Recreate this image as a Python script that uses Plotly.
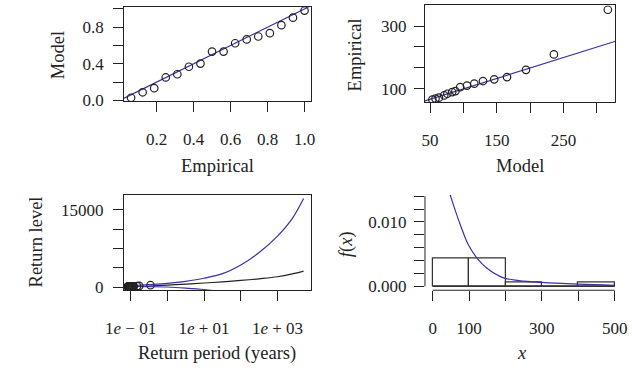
import plotly.graph_objects as go

W, H = 632, 379

# ---- probability plot ----
pp_empirical = [0.0625, 0.125, 0.1875, 0.25, 0.3125, 0.375, 0.4375, 0.5,
                0.5625, 0.625, 0.6875, 0.75, 0.8125, 0.875, 0.9375, 1.0]
pp_model = [0.029, 0.089, 0.134, 0.251, 0.286, 0.368, 0.403, 0.534,
            0.534, 0.625, 0.667, 0.699, 0.735, 0.823, 0.905, 0.982]
pp_diag = [0.0, 1.05]

# ---- quantile plot ----
qq_model = [53.5, 58.2, 63.3, 71.2, 75.9, 83.1, 88.0, 95.2,
            105.3, 116.3, 129.3, 146.1, 165.3, 193.7, 235.5, 316.3]
qq_empirical = [64.7, 67.8, 70.9, 78.1, 83.4, 88.8, 91.9, 104.4,
                109.4, 115.6, 124.1, 129.4, 136.6, 160.0, 209.4, 352.2]
qq_fit_x = [42.3, 327.7]
qq_fit_y = [60.6, 251.3]

# ---- return level plot ----
rl_period = [0.083, 0.085, 0.087, 0.089, 0.091, 0.094, 0.097, 0.1,
             0.104, 0.108, 0.113, 0.118, 0.122, 0.15, 0.172, 0.348]
rl_obs = qq_empirical
rl_curve_period = [0.079, 0.316, 1.0, 3.16, 10.0, 31.6, 100.0, 316.0,
                   1000.0, 2512.0, 5129.0]
rl_estimate = [60, 200, 380, 560, 780, 1000, 1280, 1600, 2000, 2550, 3100]
rl_upper = [200, 450, 700, 1100, 1700, 2600, 4300, 6700, 9900, 13300, 17200]
rl_lower_period = [0.079, 0.316, 1.0, 3.16, 10.0, 20.0, 31.6]
rl_lower = [100, 60, 0, -200, -480, -750, -1100]

# ---- density plot ----
bin_edges = [0, 100, 200, 300, 400, 500]
bin_density = [0.004375, 0.004375, 0.000625, 0.0, 0.000625]
dens_x = [48.2, 61.3, 78.9, 96.6, 122.9, 149.2, 192.9, 236.8, 300, 400, 500]
dens_y = [0.0142, 0.0119, 0.0091, 0.0066, 0.0043, 0.0028, 0.00135,
          0.0009, 0.0006, 0.00033, 0.00015]
dens_ticks = [0, 0.002, 0.004, 0.006, 0.008, 0.010, 0.012, 0.014]

FONT = "Liberation Serif"
INK = "#222222"
BLUE = "#3a32a0"


def dx(left, right):
    return [left / W, right / W]


def dy(top, bottom):
    return [1 - bottom / H, 1 - top / H]


axis_common = dict(
    showline=True, linecolor=INK, linewidth=1, ticks="outside", ticklen=10,
    tickwidth=1, tickcolor=INK, showgrid=False, zeroline=False,
    tickfont=dict(family=FONT, size=17, color=INK),
)

fig = go.Figure()

# panel 1
fig.add_trace(go.Scatter(x=pp_diag, y=pp_diag, mode="lines",
                         line=dict(color=BLUE, width=1.2), xaxis="x", yaxis="y"))
fig.add_trace(go.Scatter(x=pp_empirical, y=pp_model, mode="markers",
                         marker=dict(symbol="circle-open", size=7.5,
                                     color=INK, line=dict(width=1.2)),
                         xaxis="x", yaxis="y"))

# panel 2
fig.add_trace(go.Scatter(x=qq_fit_x, y=qq_fit_y, mode="lines",
                         line=dict(color=BLUE, width=1.2), xaxis="x2", yaxis="y2"))
fig.add_trace(go.Scatter(x=qq_model, y=qq_empirical, mode="markers",
                         marker=dict(symbol="circle-open", size=7.5,
                                     color=INK, line=dict(width=1.2)),
                         xaxis="x2", yaxis="y2"))

# panel 3
fig.add_trace(go.Scatter(x=rl_curve_period, y=rl_estimate, mode="lines",
                         line=dict(color=INK, width=1.2, shape="spline"),
                         xaxis="x3", yaxis="y3"))
fig.add_trace(go.Scatter(x=rl_curve_period, y=rl_upper, mode="lines",
                         line=dict(color=BLUE, width=1.2, shape="spline"),
                         xaxis="x3", yaxis="y3"))
fig.add_trace(go.Scatter(x=rl_lower_period, y=rl_lower, mode="lines",
                         line=dict(color=BLUE, width=1.2, shape="spline"),
                         xaxis="x3", yaxis="y3"))
fig.add_trace(go.Scatter(x=rl_period, y=rl_obs, mode="markers",
                         marker=dict(symbol="circle-open", size=7.5,
                                     color=INK, line=dict(width=1.2)),
                         xaxis="x3", yaxis="y3"))

# panel 4
centers = [(a + b) / 2 for a, b in zip(bin_edges[:-1], bin_edges[1:])]
widths = [b - a for a, b in zip(bin_edges[:-1], bin_edges[1:])]
fig.add_trace(go.Bar(x=centers, y=bin_density, width=widths,
                     marker=dict(color="white", line=dict(color="#333333", width=1.2)),
                     xaxis="x4", yaxis="y4"))
fig.add_trace(go.Scatter(x=dens_x, y=dens_y, mode="lines",
                         line=dict(color=BLUE, width=1.2, shape="spline"),
                         xaxis="x4", yaxis="y4"))

# bar baseline and R-style axis lines spanning only the tick range
fig.add_shape(type="line", xref="x4", yref="y4", x0=bin_edges[0], x1=bin_edges[-1],
              y0=0, y1=0, line=dict(color="#333333", width=1.2))
fig.add_shape(type="line", xref="x4", yref="y4 domain", x0=bin_edges[0],
              x1=bin_edges[-1], y0=0, y1=0, line=dict(color=INK, width=1))
fig.add_shape(type="line", xref="x4 domain", yref="y4", x0=0, x1=0,
              y0=dens_ticks[0], y1=dens_ticks[-1], line=dict(color=INK, width=1))

fig.update_layout(
    width=W, height=H, margin=dict(l=0, r=0, t=0, b=0),
    paper_bgcolor="white", plot_bgcolor="white", showlegend=False,
    bargap=0,
    xaxis=dict(axis_common, domain=dx(109.3, 304), range=[0.025, 1.0375],
               tickvals=[0.2, 0.4, 0.6, 0.8, 1.0],
               ticktext=["0.2", "0.4", "0.6", "0.8", "1.0"],
               mirror=True, anchor="y", ticklabelstandoff=12),
    yaxis=dict(axis_common, domain=dy(7.3, 103.7), range=[-0.009, 1.02],
               tickvals=[0.0, 0.2, 0.4, 0.6, 0.8, 1.0],
               ticktext=["0.0", "", "0.4", "", "0.8", ""],
               mirror=True, anchor="x", ticklabelstandoff=6),
    xaxis2=dict(axis_common, domain=dx(422, 620), range=[42.4, 327.7],
                tickvals=[50, 100, 150, 200, 250, 300],
                ticktext=["50", "", "150", "", "250", ""],
                mirror=True, anchor="y2", ticklabelstandoff=12),
    yaxis2=dict(axis_common, domain=dy(5.3, 104.7), range=[56.3, 366.9],
                tickvals=[100, 166.7, 233.3, 300],
                ticktext=["100", "", "", "300"],
                mirror=True, anchor="x2", ticklabelstandoff=4),
    xaxis3=dict(axis_common, type="log", domain=dx(109, 304), range=[-1.183, 3.924],
                tickvals=[0.1, 1, 10, 100, 1000],
                ticktext=["1<i>e</i> − 01", "", "1<i>e</i> + 01", "",
                          "1<i>e</i> + 03"],
                mirror=True, anchor="y3", ticklabelstandoff=12),
    yaxis3=dict(axis_common, domain=dy(199.3, 297.3), range=[-627, 17981],
                tickvals=[0, 3750, 7500, 11250, 15000],
                ticktext=["0", "", "", "", "15000"],
                mirror=True, anchor="x3", ticklabelstandoff=6),
    xaxis4=dict(axis_common, showline=False, domain=dx(422, 627), range=[-21.1, 520.6],
                tickvals=bin_edges,
                ticktext=["0", "100", "", "300", "", "500"],
                anchor="y4", ticklabelstandoff=12),
    yaxis4=dict(axis_common, showline=False, domain=dy(199.3, 297.3),
                range=[-0.000606, 0.01424],
                tickvals=dens_ticks,
                ticktext=["0.000", "", "", "", "", "0.010", "", ""],
                anchor="x4", ticklabelstandoff=4),
)

title_font = dict(family=FONT, size=18.5, color=INK)
titles = [
    ("Empirical", 206, 170, 0),
    ("Model", 40, 56, -90),
    ("Model", 521, 170, 0),
    ("Empirical", 349, 56, -90),
    ("Return period (years)", 206, 362, 0),
    ("Return level", 18, 248, -90),
    ("<i>x</i>", 523, 362, 0),
    ("<i>f</i>(<i>x</i>)", 340, 250, -90),
]
for text, px, py, ang in titles:
    fig.add_annotation(text=text, x=px / W, y=1 - py / H, xref="paper", yref="paper",
                       showarrow=False, textangle=ang, font=title_font,
                       xanchor="center", yanchor="middle")

fig.write_html("out.html")
